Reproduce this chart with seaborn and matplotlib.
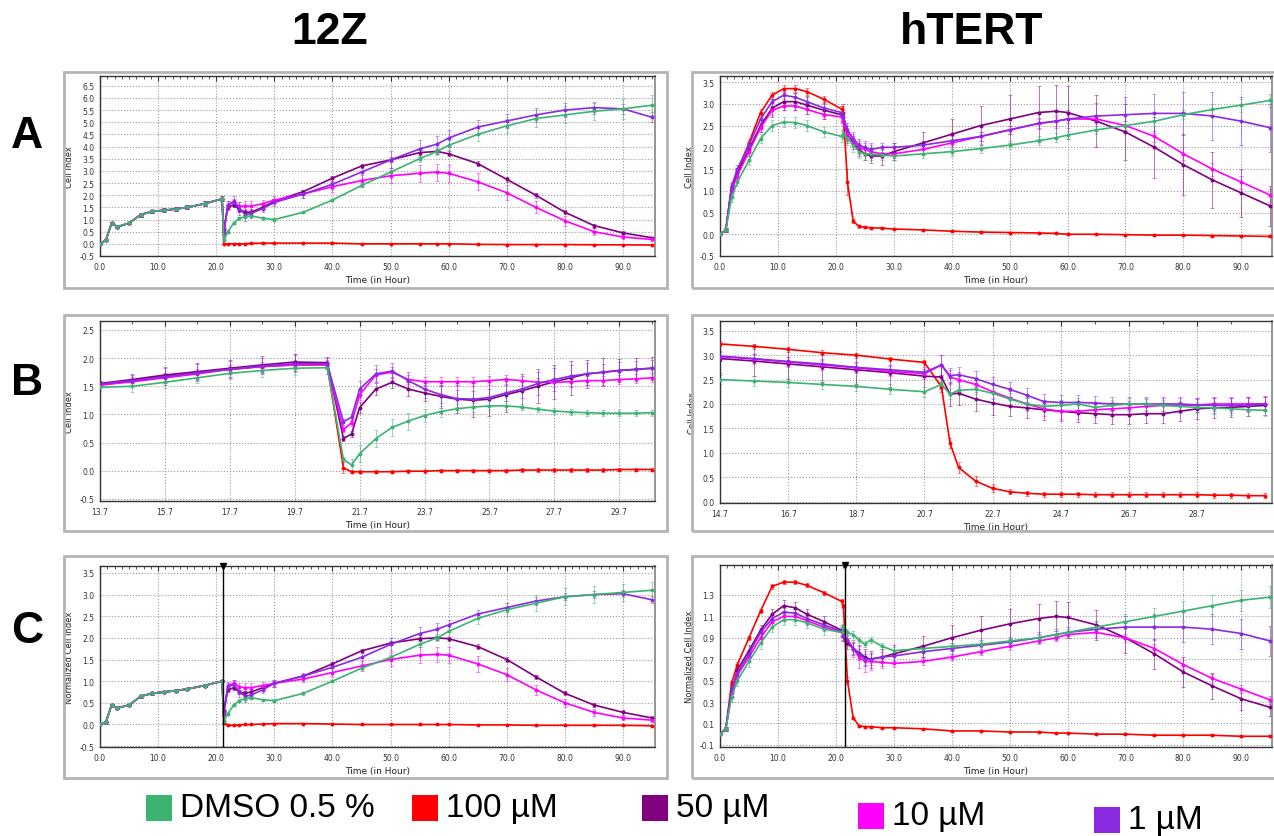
import numpy as np
import pandas as pd
import seaborn as sns
import matplotlib.pyplot as plt
from matplotlib.patches import Rectangle
from matplotlib.ticker import FixedLocator, MultipleLocator, FormatStrFormatter

# treatments and colours
treatments = ["DMSO 0.5 %", "100 µM", "50 µM", "10 µM", "1 µM"]
colors = ["#3cb371", "#ff0000", "#800080", "#ff00ff", "#8a2be2"]

# ---------- 12Z, panel A (Cell Index) ----------
a12_pre_t = [0, 1, 2, 3, 5, 7, 9, 11, 13, 15, 18, 21]
a12_pre = [0.0, 0.15, 0.85, 0.7, 0.85, 1.2, 1.33, 1.38, 1.43, 1.5, 1.65, 1.85]
a12_pre_err = [0.0, 0.05, 0.05, 0.05, 0.05, 0.08, 0.08, 0.08, 0.08, 0.08, 0.1, 0.1]
a12_post_t = [21.3, 22, 23, 24, 25, 26, 28, 30, 35, 40, 45, 50, 55, 58, 60, 65, 70, 75, 80, 85, 90, 95]
a12_dmso = [0.15, 0.5, 0.85, 1.05, 1.12, 1.15, 1.05, 1.0, 1.3, 1.8, 2.4, 2.95, 3.5, 3.8, 4.05, 4.5, 4.85, 5.15, 5.3, 5.45, 5.55, 5.7]
a12_100 = [0.0, 0.0, 0.0, 0.0, 0.0, 0.02, 0.03, 0.03, 0.03, 0.03, 0.0, 0.0, 0.0, 0.0, 0.0, -0.02, -0.03, -0.03, -0.03, -0.04, -0.04, -0.05]
a12_50 = [0.6, 1.5, 1.6, 1.4, 1.3, 1.3, 1.5, 1.75, 2.15, 2.7, 3.2, 3.45, 3.75, 3.8, 3.7, 3.3, 2.65, 2.0, 1.3, 0.75, 0.45, 0.25]
a12_10 = [0.4, 1.6, 1.7, 1.55, 1.55, 1.55, 1.65, 1.8, 2.05, 2.35, 2.6, 2.8, 2.9, 2.95, 2.9, 2.55, 2.1, 1.5, 0.95, 0.5, 0.28, 0.18]
a12_1 = [0.5, 1.6, 1.75, 1.45, 1.2, 1.25, 1.45, 1.7, 2.05, 2.45, 2.95, 3.45, 3.9, 4.1, 4.35, 4.8, 5.05, 5.3, 5.5, 5.6, 5.55, 5.2]
a12_dmso_err = [0.05, 0.05, 0.05, 0.05, 0.05, 0.05, 0.05, 0.05, 0.05, 0.05, 0.08, 0.1, 0.12, 0.15, 0.2, 0.28, 0.3, 0.35, 0.35, 0.35, 0.4, 0.4]
a12_100_err = [0.02] * 22
a12_50_err = [0.1, 0.1, 0.1, 0.1, 0.1, 0.1, 0.08, 0.08, 0.08, 0.1, 0.1, 0.1, 0.1, 0.1, 0.1, 0.1, 0.1, 0.1, 0.08, 0.08, 0.06, 0.05]
a12_10_err = [0.1, 0.15, 0.15, 0.15, 0.2, 0.2, 0.15, 0.15, 0.15, 0.2, 0.25, 0.3, 0.35, 0.35, 0.35, 0.35, 0.3, 0.25, 0.2, 0.15, 0.1, 0.08]
a12_1_err = [0.1, 0.15, 0.2, 0.25, 0.25, 0.2, 0.15, 0.15, 0.15, 0.2, 0.3, 0.35, 0.35, 0.35, 0.35, 0.3, 0.3, 0.3, 0.3, 0.25, 0.2, 0.2]

# ---------- hTERT, panel A (Cell Index) ----------
h_t = [0, 1, 2, 3, 5, 7, 9, 11, 13, 15, 18, 21, 21.3, 22, 23, 24, 25, 26, 28, 30, 35, 40, 45, 50, 55, 58, 60, 65, 70, 75, 80, 85, 90, 95]
ah_dmso = [0, 0.1, 0.85, 1.2, 1.7, 2.2, 2.5, 2.58, 2.57, 2.5, 2.35, 2.25, 2.3, 2.2, 2.05, 1.9, 1.85, 1.85, 1.82, 1.8, 1.85, 1.9, 1.97, 2.05, 2.15, 2.22, 2.28, 2.4, 2.5, 2.6, 2.75, 2.87, 2.97, 3.08]
ah_100 = [0, 0.1, 1.1, 1.45, 2.1, 2.8, 3.2, 3.35, 3.35, 3.28, 3.1, 2.88, 2.8, 1.2, 0.3, 0.18, 0.16, 0.15, 0.14, 0.12, 0.1, 0.07, 0.05, 0.04, 0.03, 0.02, 0.0, 0.0, -0.01, -0.02, -0.02, -0.03, -0.04, -0.05]
ah_50 = [0, 0.1, 1.05, 1.4, 1.95, 2.5, 2.9, 3.05, 3.05, 2.97, 2.85, 2.75, 2.6, 2.3, 2.1, 1.95, 1.85, 1.8, 1.8, 1.9, 2.1, 2.3, 2.5, 2.65, 2.8, 2.83, 2.8, 2.6, 2.35, 2.0, 1.6, 1.25, 0.95, 0.65]
ah_10 = [0, 0.1, 1.0, 1.35, 1.9, 2.45, 2.85, 2.95, 2.95, 2.87, 2.75, 2.7, 2.6, 2.3, 2.15, 2.0, 1.95, 1.9, 1.85, 1.85, 1.95, 2.1, 2.25, 2.4, 2.55, 2.6, 2.65, 2.65, 2.5, 2.25, 1.85, 1.5, 1.2, 0.9]
ah_1 = [0, 0.1, 1.1, 1.5, 2.05, 2.65, 3.05, 3.2, 3.15, 3.05, 2.9, 2.8, 2.7, 2.4, 2.2, 2.05, 2.0, 1.95, 2.0, 2.0, 2.05, 2.15, 2.25, 2.4, 2.55, 2.6, 2.65, 2.72, 2.75, 2.78, 2.78, 2.72, 2.6, 2.45]
ah_dmso_err = [0, 0.05, 0.1, 0.1, 0.1, 0.1, 0.12, 0.12, 0.12, 0.12, 0.12, 0.12, 0.12, 0.15, 0.15, 0.15, 0.15, 0.15, 0.12, 0.1, 0.1, 0.1, 0.1, 0.1, 0.1, 0.1, 0.1, 0.1, 0.1, 0.1, 0.1, 0.12, 0.15, 0.15]
ah_100_err = [0, 0.05, 0.08, 0.08, 0.08, 0.08, 0.08, 0.08, 0.08, 0.08, 0.08, 0.08, 0.2, 0.3, 0.05, 0.03, 0.02, 0.02, 0.02, 0.02, 0.02, 0.02, 0.02, 0.02, 0.02, 0.02, 0.02, 0.02, 0.02, 0.02, 0.02, 0.02, 0.02, 0.02]
ah_50_err = [0, 0.05, 0.1, 0.1, 0.15, 0.15, 0.2, 0.2, 0.2, 0.2, 0.2, 0.2, 0.2, 0.2, 0.15, 0.15, 0.15, 0.15, 0.2, 0.2, 0.25, 0.35, 0.45, 0.55, 0.6, 0.6, 0.6, 0.6, 0.65, 0.7, 0.7, 0.65, 0.55, 0.45]
ah_10_err = [0, 0.05, 0.1, 0.1, 0.1, 0.1, 0.1, 0.1, 0.1, 0.1, 0.1, 0.1, 0.1, 0.15, 0.15, 0.15, 0.15, 0.15, 0.1, 0.1, 0.1, 0.1, 0.1, 0.1, 0.1, 0.1, 0.1, 0.1, 0.1, 0.12, 0.15, 0.15, 0.15, 0.15]
ah_1_err = [0, 0.05, 0.1, 0.1, 0.1, 0.1, 0.1, 0.1, 0.1, 0.1, 0.1, 0.1, 0.15, 0.15, 0.15, 0.15, 0.15, 0.15, 0.1, 0.1, 0.1, 0.1, 0.1, 0.1, 0.12, 0.15, 0.2, 0.3, 0.4, 0.45, 0.5, 0.55, 0.55, 0.55]

# ---------- 12Z, panel B (zoom around treatment) ----------
b12_t = [13.7, 14.7, 15.7, 16.7, 17.7, 18.7, 19.7, 20.7, 21.2, 21.45, 21.7, 22.2, 22.7, 23.2, 23.7, 24.2, 24.7, 25.2, 25.7, 26.2, 26.7, 27.2, 27.7, 28.2, 28.7, 29.2, 29.7, 30.2, 30.7]
b12_dmso = [1.48, 1.5, 1.57, 1.65, 1.73, 1.78, 1.82, 1.83, 0.2, 0.1, 0.3, 0.57, 0.77, 0.88, 0.98, 1.05, 1.1, 1.13, 1.15, 1.15, 1.13, 1.09, 1.06, 1.04, 1.03, 1.02, 1.02, 1.02, 1.03]
b12_100 = [1.52, 1.6, 1.68, 1.75, 1.8, 1.85, 1.88, 1.88, 0.05, -0.02, -0.02, -0.02, -0.02, -0.01, -0.01, 0.0, 0.0, 0.0, 0.0, 0.0, 0.01, 0.01, 0.01, 0.01, 0.01, 0.01, 0.02, 0.02, 0.02]
b12_50 = [1.55, 1.62, 1.7, 1.76, 1.82, 1.88, 1.93, 1.92, 0.57, 0.65, 1.12, 1.45, 1.57, 1.45, 1.38, 1.32, 1.27, 1.25, 1.27, 1.35, 1.42, 1.5, 1.58, 1.65, 1.72, 1.75, 1.78, 1.8, 1.82]
b12_10 = [1.52, 1.58, 1.65, 1.72, 1.8, 1.85, 1.88, 1.88, 0.73, 0.85, 1.35, 1.7, 1.75, 1.62, 1.58, 1.58, 1.58, 1.58, 1.6, 1.62, 1.6, 1.57, 1.57, 1.58, 1.6, 1.6, 1.62, 1.63, 1.65]
b12_1 = [1.54, 1.6, 1.67, 1.74, 1.8, 1.86, 1.9, 1.9, 0.87, 0.95, 1.45, 1.72, 1.77, 1.6, 1.45, 1.35, 1.28, 1.27, 1.3, 1.38, 1.45, 1.55, 1.62, 1.68, 1.72, 1.75, 1.78, 1.8, 1.82]
b12_dmso_err = [0.05, 0.1, 0.1, 0.1, 0.1, 0.12, 0.12, 0.12, 0.05, 0.1, 0.15, 0.15, 0.15, 0.15, 0.12, 0.1, 0.08, 0.08, 0.08, 0.08, 0.05, 0.05, 0.05, 0.05, 0.05, 0.05, 0.05, 0.05, 0.05]
b12_100_err = [0.03, 0.03, 0.03, 0.03, 0.03, 0.03, 0.03, 0.03, 0.1, 0.03, 0.03, 0.03, 0.03, 0.03, 0.03, 0.03, 0.03, 0.03, 0.03, 0.03, 0.03, 0.03, 0.03, 0.03, 0.03, 0.03, 0.03, 0.03, 0.03]
b12_50_err = [0.05, 0.1, 0.15, 0.15, 0.15, 0.15, 0.15, 0.1, 0.05, 0.05, 0.1, 0.1, 0.1, 0.12, 0.15, 0.2, 0.25, 0.3, 0.3, 0.3, 0.3, 0.3, 0.3, 0.3, 0.25, 0.25, 0.2, 0.2, 0.2]
b12_10_err = [0.05, 0.08, 0.08, 0.08, 0.08, 0.08, 0.08, 0.08, 0.05, 0.05, 0.1, 0.1, 0.1, 0.08, 0.08, 0.08, 0.08, 0.08, 0.08, 0.08, 0.08, 0.08, 0.08, 0.08, 0.08, 0.08, 0.08, 0.08, 0.08]
b12_1_err = [0.05, 0.1, 0.15, 0.15, 0.15, 0.15, 0.15, 0.1, 0.05, 0.05, 0.15, 0.15, 0.15, 0.15, 0.15, 0.15, 0.15, 0.15, 0.15, 0.15, 0.15, 0.2, 0.2, 0.2, 0.2, 0.15, 0.15, 0.15, 0.15]

# ---------- hTERT, panel B ----------
bh_t = [14.7, 15.7, 16.7, 17.7, 18.7, 19.7, 20.7, 21.2, 21.45, 21.7, 22.2, 22.7, 23.2, 23.7, 24.2, 24.7, 25.2, 25.7, 26.2, 26.7, 27.2, 27.7, 28.2, 28.7, 29.2, 29.7, 30.2, 30.7]
bh_dmso = [2.5, 2.47, 2.44, 2.4, 2.36, 2.3, 2.25, 2.4, 2.2, 2.28, 2.3, 2.22, 2.1, 2.0, 1.95, 1.97, 2.0, 1.93, 1.97, 2.0, 2.0, 1.97, 1.95, 1.93, 1.92, 1.9, 1.88, 1.87]
bh_100 = [3.23, 3.18, 3.12, 3.05, 3.0, 2.92, 2.85, 2.35, 1.2, 0.7, 0.42, 0.27, 0.2, 0.17, 0.15, 0.15, 0.15, 0.14, 0.14, 0.14, 0.14, 0.14, 0.14, 0.14, 0.13, 0.13, 0.12, 0.12]
bh_50 = [2.93, 2.88, 2.82, 2.76, 2.7, 2.64, 2.57, 2.55, 2.2, 2.22, 2.1, 2.02, 1.95, 1.92, 1.88, 1.85, 1.82, 1.8, 1.78, 1.78, 1.8, 1.8, 1.85, 1.9, 1.92, 1.93, 1.95, 1.97]
bh_10 = [2.97, 2.92, 2.86, 2.8, 2.74, 2.67, 2.62, 2.8, 2.55, 2.5, 2.4, 2.25, 2.12, 2.0, 1.9, 1.85, 1.85, 1.88, 1.9, 1.92, 1.95, 1.97, 1.97, 1.98, 2.0, 2.0, 2.0, 2.0]
bh_1 = [2.98, 2.93, 2.87, 2.82, 2.75, 2.7, 2.65, 2.8, 2.58, 2.6, 2.52, 2.4, 2.3, 2.18, 2.05, 2.03, 2.03, 2.02, 2.0, 2.0, 2.0, 2.0, 2.0, 1.98, 1.97, 1.97, 1.98, 2.0]
bh_dmso_err = [0.1, 0.1, 0.1, 0.1, 0.1, 0.1, 0.1, 0.08, 0.1, 0.1, 0.1, 0.1, 0.12, 0.12, 0.12, 0.12, 0.12, 0.12, 0.12, 0.12, 0.12, 0.12, 0.12, 0.12, 0.12, 0.12, 0.12, 0.12]
bh_100_err = [0.05, 0.05, 0.05, 0.05, 0.05, 0.05, 0.05, 0.1, 0.1, 0.12, 0.1, 0.08, 0.05, 0.05, 0.05, 0.05, 0.05, 0.05, 0.05, 0.05, 0.05, 0.05, 0.05, 0.05, 0.05, 0.05, 0.05, 0.05]
bh_50_err = [0.3, 0.3, 0.3, 0.3, 0.3, 0.3, 0.3, 0.25, 0.25, 0.25, 0.25, 0.25, 0.2, 0.2, 0.2, 0.2, 0.2, 0.2, 0.2, 0.2, 0.2, 0.2, 0.2, 0.2, 0.2, 0.2, 0.2, 0.2]
bh_10_err = [0.1, 0.1, 0.1, 0.1, 0.1, 0.1, 0.1, 0.2, 0.15, 0.15, 0.15, 0.15, 0.15, 0.15, 0.15, 0.15, 0.15, 0.15, 0.15, 0.15, 0.15, 0.15, 0.15, 0.15, 0.15, 0.15, 0.15, 0.15]
bh_1_err = [0.1, 0.1, 0.1, 0.1, 0.1, 0.1, 0.1, 0.2, 0.15, 0.15, 0.15, 0.15, 0.15, 0.15, 0.15, 0.15, 0.15, 0.15, 0.15, 0.15, 0.15, 0.15, 0.15, 0.15, 0.15, 0.15, 0.15, 0.15]

# ---------- 12Z, panel C (Normalized Cell Index) ----------
c12_pre = [0.0, 0.05, 0.45, 0.38, 0.45, 0.65, 0.72, 0.75, 0.78, 0.82, 0.9, 1.0]
c12_pre_err = [0.0, 0.03, 0.03, 0.03, 0.03, 0.03, 0.03, 0.03, 0.03, 0.03, 0.03, 0.03]
c12_dmso = [0.08, 0.25, 0.45, 0.55, 0.6, 0.62, 0.57, 0.55, 0.72, 1.0, 1.3, 1.55, 1.85, 2.0, 2.15, 2.45, 2.65, 2.8, 2.95, 3.0, 3.05, 3.1]
c12_100 = [0.03, -0.02, -0.02, -0.01, 0.0, 0.0, 0.01, 0.02, 0.02, 0.01, 0.0, 0.0, 0.0, 0.0, 0.0, -0.01, -0.01, -0.02, -0.02, -0.02, -0.02, -0.03]
c12_50 = [0.3, 0.8, 0.85, 0.75, 0.72, 0.75, 0.85, 0.95, 1.12, 1.4, 1.7, 1.88, 1.98, 2.0, 1.98, 1.8, 1.5, 1.1, 0.72, 0.45, 0.28, 0.15]
c12_10 = [0.25, 0.9, 0.95, 0.87, 0.85, 0.85, 0.9, 0.95, 1.05, 1.2, 1.35, 1.5, 1.6, 1.62, 1.6, 1.4, 1.15, 0.8, 0.5, 0.28, 0.15, 0.1]
c12_1 = [0.28, 0.88, 0.92, 0.75, 0.65, 0.68, 0.8, 0.95, 1.12, 1.32, 1.55, 1.85, 2.1, 2.2, 2.3, 2.55, 2.7, 2.85, 2.95, 3.0, 3.02, 2.88]
c12_dmso_err = [0.03, 0.03, 0.03, 0.03, 0.03, 0.03, 0.03, 0.03, 0.03, 0.03, 0.05, 0.05, 0.07, 0.08, 0.1, 0.12, 0.15, 0.18, 0.2, 0.2, 0.2, 0.2]
c12_100_err = [0.01] * 22
c12_50_err = [0.05] * 22
c12_10_err = [0.05, 0.08, 0.08, 0.08, 0.1, 0.1, 0.08, 0.08, 0.08, 0.1, 0.12, 0.15, 0.18, 0.18, 0.18, 0.18, 0.15, 0.12, 0.1, 0.08, 0.05, 0.05]
c12_1_err = [0.05, 0.08, 0.1, 0.12, 0.12, 0.1, 0.08, 0.08, 0.08, 0.1, 0.15, 0.15, 0.15, 0.15, 0.12, 0.1, 0.1, 0.1, 0.08, 0.08, 0.08, 0.08]

# ---------- hTERT, panel C ----------
ch_dmso = [0, 0.05, 0.35, 0.5, 0.68, 0.85, 1.0, 1.07, 1.07, 1.04, 0.98, 0.95, 1.0, 0.95, 0.93, 0.88, 0.84, 0.88, 0.82, 0.78, 0.8, 0.82, 0.84, 0.87, 0.9, 0.93, 0.95, 1.0, 1.05, 1.1, 1.15, 1.2, 1.25, 1.28]
ch_100 = [0, 0.05, 0.48, 0.65, 0.9, 1.15, 1.38, 1.42, 1.42, 1.39, 1.32, 1.24, 1.2, 0.5, 0.15, 0.08, 0.07, 0.07, 0.06, 0.06, 0.05, 0.03, 0.03, 0.02, 0.02, 0.01, 0.01, 0.0, 0.0, -0.01, -0.01, -0.01, -0.02, -0.02]
ch_50 = [0, 0.05, 0.4, 0.6, 0.78, 0.97, 1.12, 1.2, 1.18, 1.12, 1.05, 0.97, 0.92, 0.85, 0.8, 0.76, 0.72, 0.7, 0.72, 0.75, 0.82, 0.9, 0.97, 1.03, 1.08, 1.1, 1.09, 1.02, 0.9, 0.75, 0.58, 0.45, 0.33, 0.25]
ch_10 = [0, 0.05, 0.38, 0.55, 0.72, 0.9, 1.05, 1.1, 1.1, 1.06, 1.0, 0.95, 0.92, 0.88, 0.8, 0.72, 0.68, 0.68, 0.67, 0.66, 0.68, 0.72, 0.77, 0.82, 0.87, 0.9, 0.93, 0.95, 0.9, 0.8, 0.65, 0.52, 0.42, 0.32]
ch_1 = [0, 0.05, 0.42, 0.57, 0.75, 0.95, 1.08, 1.14, 1.13, 1.08, 1.02, 0.96, 0.93, 0.88, 0.8, 0.75, 0.7, 0.7, 0.72, 0.73, 0.77, 0.8, 0.83, 0.86, 0.9, 0.93, 0.95, 0.98, 1.0, 1.0, 1.0, 0.98, 0.94, 0.87]
ch_dmso_err = [0, 0.02, 0.05, 0.05, 0.05, 0.05, 0.05, 0.05, 0.05, 0.05, 0.05, 0.05, 0.03, 0.03, 0.03, 0.03, 0.03, 0.03, 0.03, 0.03, 0.03, 0.03, 0.03, 0.03, 0.03, 0.03, 0.03, 0.05, 0.07, 0.08, 0.09, 0.1, 0.1, 0.1]
ch_100_err = [0, 0.02, 0.02, 0.02, 0.02, 0.02, 0.02, 0.02, 0.02, 0.02, 0.02, 0.02, 0.02, 0.03, 0.01, 0.01, 0.01, 0.01, 0.01, 0.01, 0.01, 0.01, 0.01, 0.01, 0.01, 0.01, 0.01, 0.01, 0.01, 0.01, 0.01, 0.01, 0.01, 0.01]
ch_50_err = [0, 0.02, 0.05, 0.05, 0.05, 0.05, 0.05, 0.05, 0.05, 0.05, 0.05, 0.05, 0.05, 0.05, 0.06, 0.07, 0.08, 0.08, 0.08, 0.08, 0.1, 0.12, 0.13, 0.14, 0.14, 0.14, 0.14, 0.14, 0.14, 0.14, 0.14, 0.12, 0.1, 0.08]
ch_10_err = [0, 0.02, 0.04, 0.04, 0.04, 0.04, 0.04, 0.04, 0.04, 0.04, 0.04, 0.04, 0.05, 0.06, 0.08, 0.1, 0.1, 0.08, 0.05, 0.03, 0.03, 0.03, 0.03, 0.03, 0.03, 0.03, 0.03, 0.03, 0.04, 0.04, 0.04, 0.04, 0.04, 0.04]
ch_1_err = [0, 0.02, 0.04, 0.04, 0.04, 0.04, 0.04, 0.04, 0.04, 0.04, 0.04, 0.04, 0.05, 0.05, 0.05, 0.05, 0.05, 0.05, 0.05, 0.05, 0.05, 0.05, 0.05, 0.05, 0.05, 0.05, 0.05, 0.08, 0.1, 0.12, 0.14, 0.14, 0.14, 0.14]

# ---------- figure ----------
W, H = 1274, 837
sns.set_theme(style="white")
plt.rcParams["font.family"] = ["DejaVu Sans"]
fig = plt.figure(figsize=(W / 100, H / 100), dpi=100)
fig.patch.set_facecolor("white")


def px(x0, y0, x1, y1):
    return [x0 / W, 1 - y1 / H, (x1 - x0) / W, (y1 - y0) / H]


def draw_series(ax, t, vals, errs, color):
    df = pd.DataFrame({"time": t, "value": vals})
    ax.errorbar(t, vals, yerr=errs, fmt="none", ecolor=color, elinewidth=0.7,
                capsize=1.2, capthick=0.6, alpha=0.55, zorder=2)
    sns.lineplot(data=df, x="time", y="value", ax=ax, color=color, lw=1.2,
                 marker="o", markersize=2.8, markeredgewidth=0,
                 estimator=None, sort=False, zorder=3)


def style_axes(ax, xlim, ylim, xticks, yticks, ylabel, xminor, yminor):
    ax.set_xlim(*xlim)
    ax.set_ylim(*ylim)
    ax.xaxis.set_major_locator(FixedLocator(xticks))
    ax.yaxis.set_major_locator(FixedLocator(yticks))
    ax.xaxis.set_minor_locator(MultipleLocator(xminor))
    ax.yaxis.set_minor_locator(MultipleLocator(yminor))
    ax.xaxis.set_major_formatter(FormatStrFormatter("%.1f"))
    ax.yaxis.set_major_formatter(FormatStrFormatter("%.1f"))
    ax.tick_params(which="both", direction="in", top=True, right=False,
                   labelsize=5.5, labelcolor="#333333", color="#333333", pad=4)
    ax.tick_params(which="major", length=3.5, width=0.8)
    ax.tick_params(which="minor", length=2, width=0.6)
    ax.grid(True, which="major", linestyle=":", color="#9a9a9a", linewidth=0.8)
    for side in ["left", "bottom", "top"]:
        ax.spines[side].set_color("#333333")
        ax.spines[side].set_linewidth(1.0)
    ax.spines["right"].set_color("#888888")
    ax.set_xlabel("Time (in Hour)", fontsize=6.5, color="#222222", labelpad=3)
    ax.set_ylabel(ylabel, fontsize=6, color="#222222", labelpad=4)


def plot_panel(ax, times, series, errors):
    # draw order: 100, 50, 10, 1 µM, then DMSO on top
    for i in [1, 2, 3, 4, 0]:
        draw_series(ax, times[i], series[i], errors[i], colors[i])


# frames around each panel
for y0, y1 in [(73, 289), (316, 532), (557, 779)]:
    for x0, x1 in [(64, 667), (692, 1280)]:
        fig.add_artist(Rectangle((x0 / W, 1 - y1 / H), (x1 - x0) / W, (y1 - y0) / H,
                                 transform=fig.transFigure, facecolor="none",
                                 edgecolor="#b4b4b4", lw=2.0))

xt_full = [0, 10, 20, 30, 40, 50, 60, 70, 80, 90]

# 12Z A
ax = fig.add_axes(px(100, 77, 655, 257))
t12 = a12_pre_t + a12_post_t
plot_panel(ax, [t12] * 5,
           [a12_pre + a12_dmso, a12_pre + a12_100, a12_pre + a12_50, a12_pre + a12_10, a12_pre + a12_1],
           [a12_pre_err + a12_dmso_err, a12_pre_err + a12_100_err, a12_pre_err + a12_50_err,
            a12_pre_err + a12_10_err, a12_pre_err + a12_1_err])
style_axes(ax, (0, 95.5), (-0.5, 6.9), xt_full, np.arange(-0.5, 6.51, 0.5), "Cell Index", 1.25, 0.25)

# hTERT A
ax = fig.add_axes(px(720, 77, 1272, 257))
plot_panel(ax, [h_t] * 5, [ah_dmso, ah_100, ah_50, ah_10, ah_1],
           [ah_dmso_err, ah_100_err, ah_50_err, ah_10_err, ah_1_err])
style_axes(ax, (0, 95.3), (-0.5, 3.64), xt_full, np.arange(-0.5, 3.51, 0.5), "Cell Index", 1.25, 0.1)

# 12Z B
ax = fig.add_axes(px(100, 322, 655, 502))
plot_panel(ax, [b12_t] * 5, [b12_dmso, b12_100, b12_50, b12_10, b12_1],
           [b12_dmso_err, b12_100_err, b12_50_err, b12_10_err, b12_1_err])
style_axes(ax, (13.7, 30.8), (-0.54, 2.66), [13.7, 15.7, 17.7, 19.7, 21.7, 23.7, 25.7, 27.7, 29.7],
           np.arange(-0.5, 2.51, 0.5), "Cell Index", 1.0, 0.1)
ax.xaxis.set_minor_locator(FixedLocator([14.7, 16.7, 18.7, 20.7, 22.7, 24.7, 26.7, 28.7, 30.7]))

# hTERT B
ax = fig.add_axes(px(720, 322, 1272, 504))
plot_panel(ax, [bh_t] * 5, [bh_dmso, bh_100, bh_50, bh_10, bh_1],
           [bh_dmso_err, bh_100_err, bh_50_err, bh_10_err, bh_1_err])
style_axes(ax, (14.7, 30.9), (-0.03, 3.7), [14.7, 16.7, 18.7, 20.7, 22.7, 24.7, 26.7, 28.7],
           np.arange(0, 3.51, 0.5), "Cell Index", 1.0, 0.1)
ax.xaxis.set_minor_locator(FixedLocator([15.7, 17.7, 19.7, 21.7, 23.7, 25.7, 27.7, 29.7]))

# 12Z C
ax = fig.add_axes(px(100, 567, 655, 748))
plot_panel(ax, [t12] * 5,
           [c12_pre + c12_dmso, c12_pre + c12_100, c12_pre + c12_50, c12_pre + c12_10, c12_pre + c12_1],
           [c12_pre_err + c12_dmso_err, c12_pre_err + c12_100_err, c12_pre_err + c12_50_err,
            c12_pre_err + c12_10_err, c12_pre_err + c12_1_err])
style_axes(ax, (0, 95.5), (-0.52, 3.66), xt_full, np.arange(-0.5, 3.51, 0.5),
           "Normalized Cell Index", 1.25, 0.1)
ax.axvline(21.2, color="black", lw=1.0, zorder=5)
ax.plot([21.2], [3.66], marker="v", color="black", markersize=4, clip_on=False, zorder=6)

# hTERT C
ax = fig.add_axes(px(720, 566, 1272, 748))
plot_panel(ax, [h_t] * 5, [ch_dmso, ch_100, ch_50, ch_10, ch_1],
           [ch_dmso_err, ch_100_err, ch_50_err, ch_10_err, ch_1_err])
style_axes(ax, (0, 95.3), (-0.12, 1.58), xt_full, np.arange(-0.1, 1.31, 0.2),
           "Normalized Cell Index", 1.25, 0.05)
ax.axvline(21.5, color="black", lw=1.0, zorder=5)
ax.plot([21.5], [1.58], marker="v", color="black", markersize=4, clip_on=False, zorder=6)

# column and row headings
head = dict(fontsize=32, fontweight="bold", family=["Liberation Sans", "DejaVu Sans"],
            ha="center", va="center", color="black")
fig.text(330 / W, 1 - 33 / H, "12Z", **head)
fig.text(972 / W, 1 - 33 / H, "hTERT", **head)
fig.text(27 / W, 1 - 137 / H, "A", **head)
fig.text(27 / W, 1 - 384 / H, "B", **head)
fig.text(27 / W, 1 - 632 / H, "C", **head)

# legend at the bottom
leg_x = [146, 412, 642, 858, 1094]
leg_y = [796, 796, 796, 804, 808]
for i, name in enumerate(treatments):
    x0, y0 = leg_x[i], leg_y[i]
    fig.add_artist(Rectangle((x0 / W, 1 - (y0 + 26) / H), 26 / W, 26 / H,
                             transform=fig.transFigure, facecolor=colors[i],
                             edgecolor="none"))
    fig.text((x0 + 34) / W, 1 - (y0 + 13) / H, name, fontsize=24, color="black",
             family=["Liberation Sans", "DejaVu Sans"], ha="left", va="center")

fig.savefig("out.png", dpi=100)
